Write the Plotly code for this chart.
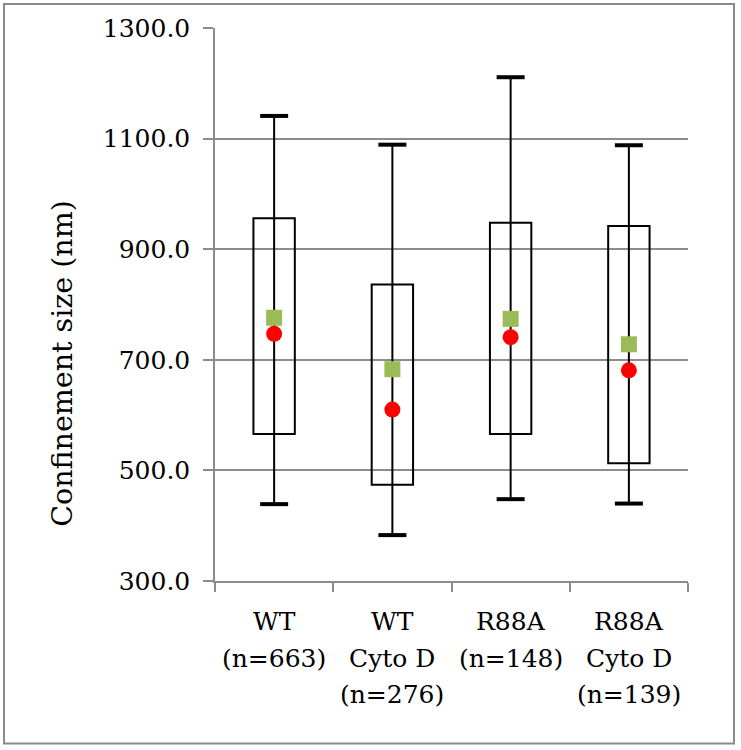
import plotly.graph_objects as go

# ---- data ----
groups = ["WT", "WT<br>Cyto D", "R88A", "R88A<br>Cyto D"]
n_counts = [663, 276, 148, 139]
whisker_high = [1141, 1089, 1211, 1088]
box_high = [956, 836, 948, 942]
box_low = [566, 474, 566, 513]
whisker_low = [439, 383, 448, 440]
square_vals = [776, 683, 774, 728]   # green squares
circle_vals = [747, 610, 741, 681]   # red circles
y_ticks = [300, 500, 700, 900, 1100, 1300]

cats = [f"{g}<br>(n={n})" for g, n in zip(groups, n_counts)]

FONT = "DejaVu Serif"
GRID = "#8c8c8c"

fig = go.Figure()

# boxes (outline only)
fig.add_trace(go.Bar(
    x=cats,
    y=[h - l for h, l in zip(box_high, box_low)],
    base=box_low,
    width=0.35,
    marker=dict(color="rgba(0,0,0,0)", line=dict(color="black", width=2)),
    hoverinfo="skip",
))

# whisker stems
sx, sy = [], []
for c, lo, hi in zip(cats, whisker_low, whisker_high):
    sx += [c, c, None]
    sy += [lo, hi, None]
fig.add_trace(go.Scatter(x=sx, y=sy, mode="lines",
                         line=dict(color="black", width=2),
                         connectgaps=False, hoverinfo="skip"))

# whisker caps
fig.add_trace(go.Scatter(
    x=cats + cats, y=whisker_high + whisker_low, mode="markers",
    marker=dict(symbol="line-ew", size=20,
                line=dict(color="black", width=4)),
    hoverinfo="skip"))

# green squares
fig.add_trace(go.Scatter(
    x=cats, y=square_vals, mode="markers",
    marker=dict(symbol="square", size=16, color="#9BBB59"),
))

# red circles
fig.add_trace(go.Scatter(
    x=cats, y=circle_vals, mode="markers",
    marker=dict(symbol="circle", size=16, color="#FF0000"),
))

plot_l, plot_r, plot_t, plot_b = 215, 688, 28, 581.4
W, H = 741, 750
pw = plot_r - plot_l
ph = plot_b - plot_t

# category labels, one annotation per text line (for Excel-like line spacing)
annotations = []
first_line_y, line_gap = 622, 36.5
for c in cats:
    for i, line in enumerate(c.split("<br>")):
        annotations.append(dict(
            text=line, x=c, xref="x",
            yref="paper", y=(plot_b - (first_line_y + i * line_gap)) / ph,
            xanchor="center", yanchor="middle", showarrow=False,
            font=dict(family=FONT, size=25, color="black"),
        ))

annotations.append(dict(
    text="Confinement size (nm)",
    textangle=-90,
    xref="paper", yref="paper",
    x=(63 - plot_l) / pw, y=(plot_b - 364) / ph,
    xanchor="center", yanchor="middle",
    showarrow=False,
    font=dict(family=FONT, size=28.5, color="black"),
))

fig.update_layout(
    width=W, height=H,
    margin=dict(l=plot_l, r=W - plot_r, t=plot_t, b=H - plot_b, pad=0),
    paper_bgcolor="white", plot_bgcolor="white",
    showlegend=False,
    font=dict(family=FONT, size=25, color="black"),
    xaxis=dict(
        type="category",
        tickson="boundaries",
        ticks="outside", ticklen=9, tickwidth=1.5, tickcolor=GRID,
        showline=True, linecolor=GRID, linewidth=1.5,
        showgrid=False,
        showticklabels=False,
        range=[-0.5, 3.5],
    ),
    yaxis=dict(
        range=[300, 1300],
        tickvals=y_ticks,
        ticktext=[f"{v:.1f}" for v in y_ticks],
        ticks="outside", ticklen=10, tickwidth=1.5, tickcolor=GRID,
        showline=True, linecolor=GRID, linewidth=1.5,
        showgrid=True, gridcolor=GRID, gridwidth=1.5,
        zeroline=False,
        tickfont=dict(family=FONT, size=25, color="black"),
        ticklabelstandoff=8,
    ),
    annotations=annotations,
    shapes=[dict(
        type="rect", xref="paper", yref="paper",
        x0=(4 - plot_l) / pw, x1=(734 - plot_l) / pw,
        y0=(plot_b - 744) / ph, y1=(plot_b - 4) / ph,
        line=dict(color="#8a8a8a", width=2),
        fillcolor="rgba(0,0,0,0)", layer="below",
    )],
)

fig.write_html(
    "out.html",
    config={"displayModeBar": False},
    post_script="document.body.style.margin='0';"
                "document.documentElement.style.overflow='hidden';"
                "document.body.style.overflow='hidden';",
)
